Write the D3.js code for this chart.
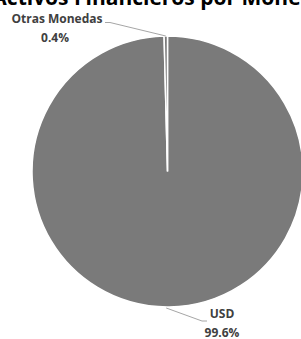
<!DOCTYPE html>
<html>
<head>
<meta charset="utf-8">
<script src="https://cdn.jsdelivr.net/npm/d3@7"></script>
<style>
  body { margin: 0; background: #fff; }
  svg text { font-family: "Open Sans", Lato, sans-serif; }
</style>
</head>
<body>
<div id="chart"></div>
<script>
var categories = ['USD', 'Otras Monedas'];
var values = [99.6, 0.4];
var value_labels = ['99.6%', '0.4%'];

var svg_w = 301,
    svg_h = 339,
    cx = 167.5,
    cy = 171.5,
    radius = 135.5;

var svg = d3.select('#chart').append('svg')
    .attr('width', svg_w)
    .attr('height', svg_h);

// title, cut off by the top edge like in the picture
var title = svg.append('text')
  .attr('y', 4.5)
  .attr('font-size', 21)
  .attr('font-weight', 'bold')
  .attr('fill', '#000');
var t1 = title.append('tspan').text('Activos ');
title.append('tspan').text('Financieros por Moneda');
title.attr('x', 74 - t1.node().getComputedTextLength());

var pie = d3.pie().sort(null).value(function(d) { return d; });
var arc = d3.arc().innerRadius(0).outerRadius(radius);
var slices = pie(values);

var g = svg.append('g')
  .attr('transform', 'translate(' + cx + ',' + cy + ')');

g.selectAll('path')
  .data(slices)
  .enter().append('path')
  .attr('d', arc)
  .attr('fill', '#7a7a7a')
  .attr('stroke', '#fff')
  .attr('stroke-width', 1.5);

// leader lines and labels
var label_pos = [
  {x: 222, y: 318, anchor: [207, 321], side: 'right'},
  {x: 57, y: 23, anchor: [110, 22.5], side: 'left'}
];

function edge_point(s) {
  var a = (s.startAngle + s.endAngle) / 2;
  return [cx + Math.sin(a) * radius, cy - Math.cos(a) * radius];
}

slices.forEach(function(s, i) {
  var p = label_pos[i];
  var e = edge_point(s);
  var pts;
  if (p.side === 'left') {
    pts = [[p.anchor[0] - 5, p.anchor[1]], p.anchor, e];
  } else {
    pts = [[e[0] - 3, e[1] + 1], [p.anchor[0] - 5, p.anchor[1]], p.anchor];
  }
  svg.append('path')
    .attr('d', d3.line()(pts))
    .attr('fill', 'none')
    .attr('stroke', '#a6a6a6')
    .attr('stroke-width', 1);

  svg.append('text')
    .attr('x', p.x)
    .attr('y', p.y)
    .attr('text-anchor', 'middle')
    .attr('font-size', 12)
    .attr('font-weight', 'bold')
    .attr('fill', '#404040')
    .text(categories[i]);

  svg.append('text')
    .attr('x', p.x - (p.side === 'left' ? 2 : 0))
    .attr('y', p.y + 18.5)
    .attr('text-anchor', 'middle')
    .attr('font-size', 12)
    .attr('font-weight', 'bold')
    .attr('fill', '#404040')
    .text(value_labels[i]);
});
</script>
</body>
</html>
